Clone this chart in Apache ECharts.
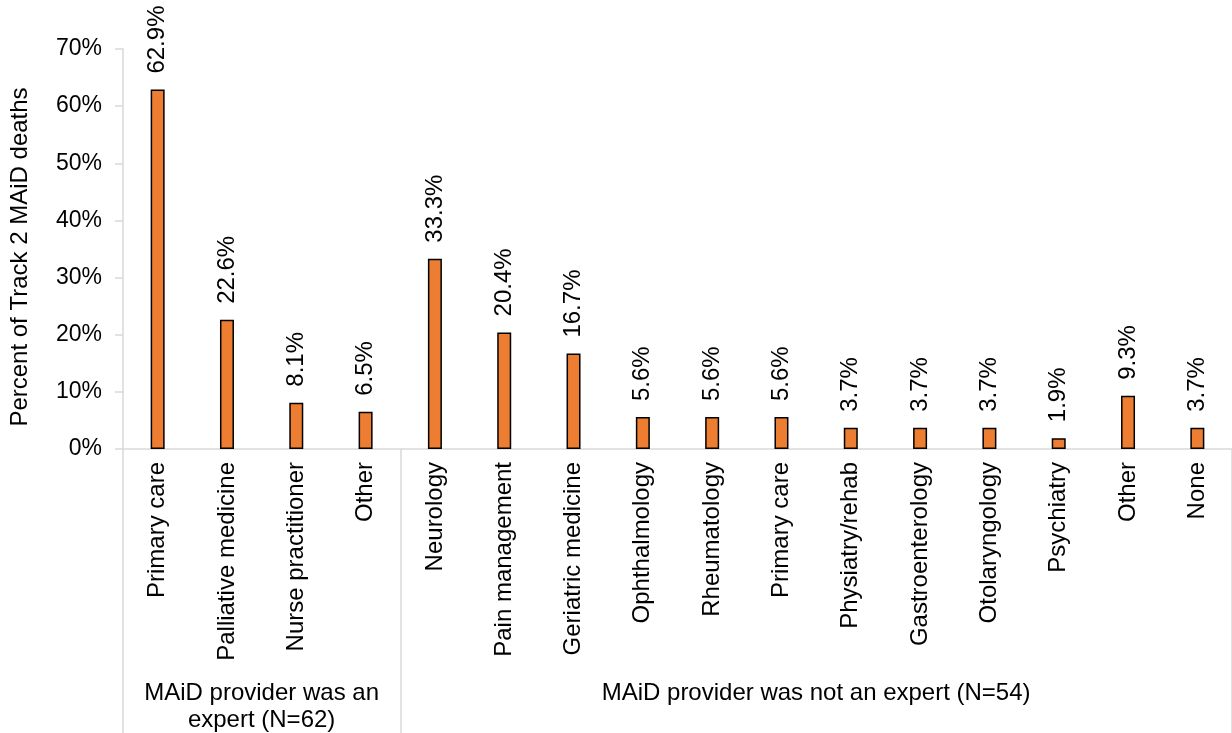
<!DOCTYPE html>
<html>
<head>
<meta charset="utf-8">
<script src="https://cdn.jsdelivr.net/npm/echarts@6/dist/echarts.min.js"></script>
<style>html,body{margin:0;padding:0;background:#fff}#c{width:1232px;height:733px}</style>
</head>
<body>
<div id="c"></div>
<script>
const categories = ['Primary care','Palliative medicine','Nurse practitioner','Other',
  'Neurology','Pain management','Geriatric medicine','Ophthalmology','Rheumatology','Primary care',
  'Physiatry/rehab','Gastroenterology','Otolaryngology','Psychiatry','Other','None'];
const values = [62.9,22.6,8.1,6.5,33.3,20.4,16.7,5.6,5.6,5.6,3.7,3.7,3.7,1.9,9.3,3.7];
const groups = ['MAiD provider was an\nexpert (N=62)','MAiD provider was not an expert (N=54)'];
const groupStart = [0,4];
const groupSize = [4,12];
const yTicks = {min:0,max:70,interval:10};
const yName = 'Percent of Track 2 MAiD deaths';

const FONT = 'Liberation Sans, Arial, sans-serif';
const FS = 24;
const chart = echarts.init(document.getElementById('c'));
chart.setOption({
  animation:false,
  grid:{left:121,right:-1,top:49,bottom:284,containLabel:false},
  xAxis:{
    type:'category',data:categories,
    axisLine:{lineStyle:{color:'#D9D9D9',width:1.5}},
    axisTick:{show:true,length:284,lineStyle:{color:'#D9D9D9',width:1.5},
      interval:function(i){return groupStart.indexOf(i)>=0;}},
    axisLabel:{rotate:90,margin:13,interval:0,color:'#000',fontFamily:FONT,fontSize:FS}
  },
  yAxis:{
    type:'value',min:yTicks.min,max:yTicks.max,interval:yTicks.interval,
    name:yName,nameLocation:'middle',nameGap:91,
    nameTextStyle:{color:'#000',fontFamily:FONT,fontSize:FS,padding:[0,16,0,0]},
    axisLine:{show:true,lineStyle:{color:'#D9D9D9',width:1.5}},
    axisTick:{show:true,length:8,lineStyle:{color:'#D9D9D9',width:1.5}},
    splitLine:{show:false},
    axisLabel:{formatter:'{value}%',margin:21,color:'#000',fontFamily:FONT,fontSize:23}
  },
  series:[{
    type:'bar',data:values,barWidth:14,
    itemStyle:{color:'#ED7D31',borderColor:'#000',borderWidth:1.5},
    label:{show:true,position:'top',rotate:90,align:'left',verticalAlign:'middle',distance:16,
      formatter:function(p){return p.value.toFixed(1)+'%';},
      color:'#000',fontFamily:FONT,fontSize:FS}
  }]
});
function place(){
  const g = groups.map(function(t,k){
    const a = chart.convertToPixel({xAxisIndex:0}, groupStart[k]);
    const b = chart.convertToPixel({xAxisIndex:0}, groupStart[k]+groupSize[k]-1);
    return {type:'text',x:(a+b)/2,y:680,
      style:{text:t,textAlign:'center',textVerticalAlign:'top',fill:'#000',
        font:FS+'px '+FONT,lineHeight:27}};
  });
  chart.setOption({graphic:g});
}
place();
</script>
</body>
</html>
